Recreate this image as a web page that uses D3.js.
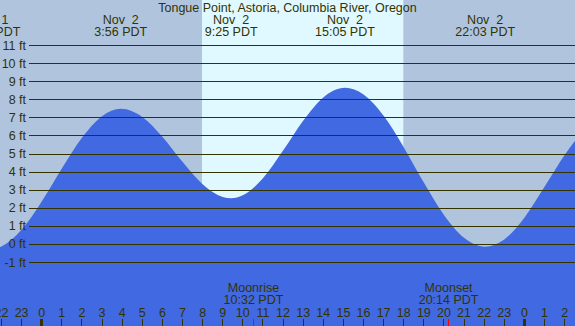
<!DOCTYPE html>
<html>
<head>
<meta charset="utf-8">
<script src="https://cdn.jsdelivr.net/npm/d3@7"></script>
<style>
  html, body { margin: 0; padding: 0; background: #b0c4de; }
  svg { display: block; }
  text { font-family: "Liberation Sans", Arial, sans-serif; font-size: 12.5px; fill: #333300; }
</style>
</head>
<body>
<div id="chart"></div>
<script>
// Tide height (ft), hours from midnight Nov 2 (PDT)
const tideHours = [-3, -2.55, -2, -1, 0, 1, 2, 3, 3.93, 5, 6, 7, 8, 9, 9.42, 10, 11, 12, 13, 14, 15.08,
                   16, 17, 18, 19, 20, 21, 22.05, 23, 24, 25, 26, 27];
const tideFeet  = [-0.23, -0.3, -0.14, 0.78, 2.34, 4.17, 5.87, 7.06, 7.47, 7.02, 5.93, 4.54, 3.30, 2.60, 2.53,
                   2.69, 3.63, 5.16, 6.81, 8.10, 8.63, 8.26, 7.09, 5.35, 3.39, 1.60, 0.34, -0.15, 0.25, 1.45,
                   3.16, 4.92, 6.40];

// High / low labels at the top
const extremeHours = [-2.55, 3.93, 9.42, 15.08, 22.05];
const extremeDates = ["Nov  1", "Nov  2", "Nov  2", "Nov  2", "Nov  2"];
const extremeTimes = ["21:27 PDT", "3:56 PDT", "9:25 PDT", "15:05 PDT", "22:03 PDT"];

// Sun and moon (hours)
const sunrise = 7.97;
const sunset = 17.98;
const moonHours = [10.53, 20.23];
const moonNames = ["Moonrise", "Moonset"];
const moonTimes = ["10:32 PDT", "20:14 PDT"];

const feetTicks = d3.range(-1, 12);
const hourTicks = d3.range(-2, 27);

const width = 575;
const height = 326;

const svg = d3.select("#chart")
  .append("svg")
  .attr("width", width)
  .attr("height", height);

const x = d3.scaleLinear().domain([0, 24]).range([41.7, 524.4]);
const y = d3.scaleLinear().domain([-1, 11]).range([262, 45]);

// night sky, then day band
svg.append("rect")
  .attr("width", width).attr("height", height)
  .attr("fill", "#b0c4de");

svg.append("rect")
  .attr("x", x(sunrise)).attr("y", 0)
  .attr("width", x(sunset) - x(sunrise)).attr("height", height)
  .attr("fill", "#e0f8ff");

// water
const tide = tideHours.map((h, i) => ({ h: h, ft: tideFeet[i] }));
const area = d3.area()
  .x(d => x(d.h))
  .y0(height)
  .y1(d => y(d.ft))
  .curve(d3.curveMonotoneX);

svg.append("path")
  .datum(tide)
  .attr("fill", "#4169e1")
  .attr("d", area);

// gridlines + ft labels
const yAxis = g => g
  .attr("transform", "translate(29,0)")
  .call(d3.axisRight(y).tickValues(feetTicks).tickSize(width - 29).tickFormat(""))
  .call(g => g.select(".domain").remove())
  .call(g => g.selectAll(".tick line")
    .attr("stroke", "#333300")
    .attr("stroke-width", 1)
    .attr("shape-rendering", "crispEdges"));

svg.append("g").call(yAxis);

svg.append("g")
  .selectAll("text")
  .data(feetTicks)
  .join("text")
  .attr("x", 26)
  .attr("y", d => y(d) + 4.5)
  .attr("text-anchor", "end")
  .text(d => d + " ft");

// title
svg.append("text")
  .attr("x", 287.5).attr("y", 12)
  .attr("text-anchor", "middle")
  .text("Tongue Point, Astoria, Columbia River, Oregon");

// high/low labels
const peakLabels = svg.append("g")
  .selectAll("g")
  .data(extremeHours)
  .join("g")
  .attr("transform", d => `translate(${x(d)},0)`);

peakLabels.append("text")
  .attr("y", 24).attr("text-anchor", "middle")
  .style("white-space", "pre")
  .text((d, i) => extremeDates[i]);

peakLabels.append("text")
  .attr("y", 36).attr("text-anchor", "middle")
  .text((d, i) => extremeTimes[i]);

// hour ticks along the bottom
const hourG = svg.append("g")
  .selectAll("g")
  .data(hourTicks)
  .join("g")
  .attr("transform", d => `translate(${x(d)},0)`);

hourG.append("line")
  .attr("y1", 319).attr("y2", height)
  .attr("stroke", "#333300")
  .attr("shape-rendering", "crispEdges")
  .attr("stroke-width", d => ((d % 24) + 24) % 24 === 0 ? 3 : 1);

hourG.append("text")
  .attr("y", 317).attr("text-anchor", "middle")
  .text(d => ((d % 24) + 24) % 24);

// moonrise / moonset
const moon = svg.append("g")
  .selectAll("g")
  .data(moonHours)
  .join("g")
  .attr("transform", d => `translate(${x(d)},0)`);

moon.append("line")
  .attr("y1", 319).attr("y2", height)
  .attr("stroke", "red")
  .attr("shape-rendering", "crispEdges");

moon.append("text")
  .attr("y", 292).attr("text-anchor", "middle")
  .text((d, i) => moonNames[i]);

moon.append("text")
  .attr("y", 304).attr("text-anchor", "middle")
  .text((d, i) => moonTimes[i]);
</script>
</body>
</html>
